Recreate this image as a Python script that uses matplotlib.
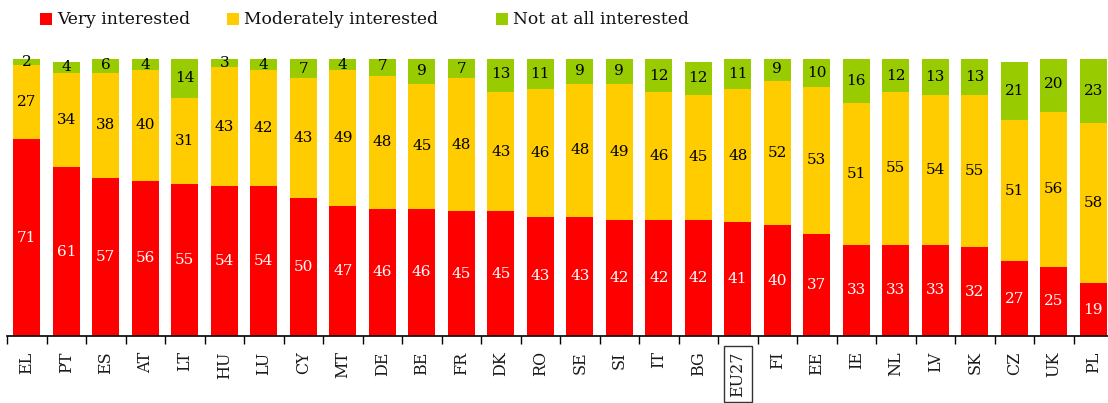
import matplotlib
matplotlib.use("Agg")
import matplotlib.pyplot as plt
from matplotlib.patches import Rectangle

categories = ["EL", "PT", "ES", "AT", "LT", "HU", "LU", "CY", "MT", "DE", "BE", "FR", "DK", "RO",
              "SE", "SI", "IT", "BG", "EU27", "FI", "EE", "IE", "NL", "LV", "SK", "CZ", "UK", "PL"]
very = [71, 61, 57, 56, 55, 54, 54, 50, 47, 46, 46, 45, 45, 43, 43, 42, 42, 42, 41, 40, 37, 33, 33, 33, 32, 27, 25, 19]
moderately = [27, 34, 38, 40, 31, 43, 42, 43, 49, 48, 45, 48, 43, 46, 48, 49, 46, 45, 48, 52, 53, 51, 55, 54, 55, 51, 56, 58]
not_at_all = [2, 4, 6, 4, 14, 3, 4, 7, 4, 7, 9, 7, 13, 11, 9, 9, 12, 12, 11, 9, 10, 16, 12, 13, 13, 21, 20, 23]
series_names = ["Very interested", "Moderately interested", "Not at all interested"]

RED, YEL, GRN = "#FF0000", "#FFCC00", "#99CC00"
FONT = "DejaVu Serif"
plt.rcParams["font.family"] = FONT

W, H = 1108, 403
fig = plt.figure(figsize=(W / 100, H / 100), dpi=100)
ax = fig.add_axes([7 / W, 67 / H, 1106 / W, 277 / H])

x = list(range(len(categories)))
bw = 0.68
ax.bar(x, very, bw, color=RED)
ax.bar(x, moderately, bw, bottom=very, color=YEL)
bot3 = [a + b for a, b in zip(very, moderately)]
ax.bar(x, not_at_all, bw, bottom=bot3, color=GRN)

fs = 11
for i in x:
    ax.text(i, very[i] / 2, str(very[i]), ha="center", va="center", color="white", fontsize=fs)
    ax.text(i, very[i] + moderately[i] / 2, str(moderately[i]), ha="center", va="center", color="black", fontsize=fs)
    ax.text(i, bot3[i] + not_at_all[i] / 2, str(not_at_all[i]), ha="center", va="center", color="black", fontsize=fs)

ax.set_xlim(-0.5, len(categories) - 0.5)
ax.set_ylim(0, 100)
for s in ["top", "right", "left"]:
    ax.spines[s].set_visible(False)
ax.spines["bottom"].set_linewidth(1.2)
ax.set_yticks([])
ax.set_xticks([i - 0.5 for i in x] + [len(categories) - 0.5])
ax.set_xticklabels([])
ax.tick_params(axis="x", length=6, width=1, direction="out")
ax.set_xticks(x, minor=True)
ax.set_xticklabels(categories, minor=True, rotation=90, fontsize=11.5, color="#1a1a1a")
ax.tick_params(axis="x", which="minor", length=0, pad=11)
for lbl in ax.get_xticklabels(minor=True):
    if lbl.get_text() == "EU27":
        lbl.set_bbox(dict(facecolor="none", edgecolor="#333333", linewidth=1, pad=4))

# legend
leg = [(40, RED, series_names[0]), (227, YEL, series_names[1]), (496, GRN, series_names[2])]
for xs, col, name in leg:
    fig.add_artist(Rectangle((xs / W, 1 - 25 / H), 12 / W, 12 / H, transform=fig.transFigure,
                             facecolor=col, edgecolor="none"))
    fig.text((xs + 17) / W, 1 - 19 / H, name, ha="left", va="center", fontsize=12.3, color="#111111")

fig.savefig("out.png", dpi=100)
